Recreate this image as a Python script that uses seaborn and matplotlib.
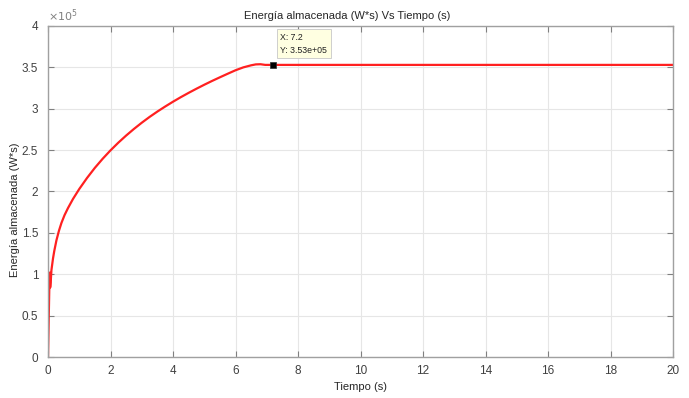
import numpy as np
import pandas as pd
import matplotlib
matplotlib.use('Agg')
import matplotlib.pyplot as plt
import seaborn as sns
from matplotlib.ticker import FuncFormatter, MultipleLocator

# values (t in s, energy in W*s)
tiempo = [0, 0.02, 0.04, 0.055, 0.07, 0.085, 0.11, 0.16, 0.2, 0.27, 0.35, 0.43,
          0.53, 0.64, 0.8, 1.0, 1.25, 1.5, 1.75, 2.0, 2.25, 2.5, 2.75, 3.0,
          3.25, 3.5, 3.75, 4.0, 4.25, 4.5, 4.75, 5.0, 5.25, 5.5, 5.75, 6.0,
          6.25, 6.5, 6.65, 6.8, 6.95, 20.0]
energia = [0, 0.4e5, 0.8e5, 1.02e5, 0.84e5, 0.9e5, 1.05e5, 1.19e5, 1.28e5,
           1.41e5, 1.525e5, 1.62e5, 1.715e5, 1.80e5, 1.91e5, 2.03e5, 2.164e5,
           2.286e5, 2.396e5, 2.497e5, 2.59e5, 2.676e5, 2.756e5, 2.831e5,
           2.901e5, 2.966e5, 3.027e5, 3.085e5, 3.14e5, 3.192e5, 3.242e5,
           3.29e5, 3.336e5, 3.38e5, 3.423e5, 3.465e5, 3.50e5, 3.525e5,
           3.536e5, 3.538e5, 3.53e5, 3.53e5]
tip_x = 7.2
tip_y = 3.53e5

df = pd.DataFrame({'t': tiempo, 'E': energia})

sns.set_style('white')
plt.rcParams['font.family'] = ['Liberation Sans', 'DejaVu Sans']
txt = '#404040'

fig = plt.figure(figsize=(6.89, 3.98), dpi=100)
ax = fig.add_axes([48 / 689, 1 - 357 / 398, 625 / 689, 331 / 398])

sns.lineplot(data=df, x='t', y='E', ax=ax, color='#ff2020', linewidth=1.6,
             estimator=None, sort=False)

ax.set_xlim(0, 20)
ax.set_ylim(0, 4e5)
ax.xaxis.set_major_locator(MultipleLocator(2))
ax.yaxis.set_major_locator(MultipleLocator(0.5e5))
ax.yaxis.set_major_formatter(FuncFormatter(lambda v, p: f'{v / 1e5:g}'))
ax.grid(True, color='#e6e6e6', linewidth=0.8)
ax.set_axisbelow(True)
for s in ax.spines.values():
    s.set_color('#a0a0a0')
    s.set_linewidth(1.0)
ax.tick_params(direction='in', length=4, color='#808080', labelcolor=txt,
               labelsize=8.5, top=True, right=True, bottom=True, left=True)
ax.tick_params(axis='y', pad=7)
ax.tick_params(axis='x', pad=6)

ax.set_title('Energía almacenada (W*s) Vs Tiempo (s)', fontsize=8, color='#262626',
             pad=5, x=0.478)
ax.set_xlabel('Tiempo (s)', fontsize=8, color='#262626', labelpad=3)
ax.set_ylabel('Energía almacenada (W*s)', fontsize=8, color='#262626', labelpad=9)
ax.yaxis.set_label_coords(-0.045, 0.445)
ax.text(0, 1.005, r'$\times10^5$', transform=ax.transAxes, fontsize=8,
        color='#808080', va='bottom', ha='left')

# data tip
ax.plot([tip_x], [tip_y], marker='s', color='black', markersize=5,
        markeredgecolor='#303030', markeredgewidth=0.5)
ax.annotate(f'X: {tip_x:g}\nY: {tip_y:.2e}', xy=(tip_x, tip_y),
            xytext=(7.44, 3.655e5), fontsize=6.3, color='#202020',
            va='bottom', ha='left', linespacing=1.55,
            bbox=dict(boxstyle='square,pad=0.4', fc='#ffffe1', ec='#c8c8c8', lw=0.6))

fig.savefig('out.png', dpi=100)
